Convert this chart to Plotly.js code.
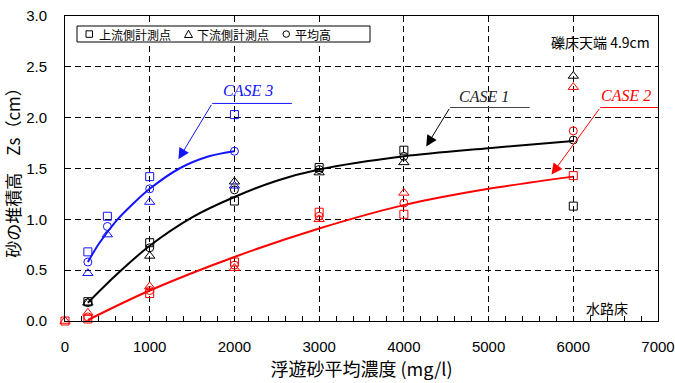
<!DOCTYPE html>
<html>
<head>
<meta charset="utf-8">
<script src="https://cdn.plot.ly/plotly-3.0.1.min.js"></script>
<style>html,body{margin:0;padding:0;background:#fff;}#chart{width:675px;height:383px;}</style>
</head>
<body>
<div id="chart"></div>
<script>
// ---- data ----
const xCase1 = [270, 1000, 2000, 3000, 4000, 6000];
const case1Up = [0.19, 0.77, 1.18, 1.51, 1.68, 1.13];
const case1Down = [0.18, 0.64, 1.37, 1.46, 1.56, 2.41];
const case1Avg = [0.18, 0.72, 1.29, 1.49, 1.62, 1.78];

const xCase2 = [0, 270, 1000, 2000, 3000, 4000, 6000];
const case2Up = [0, 0.02, 0.27, 0.58, 1.07, 1.05, 1.43];
const case2Down = [0, 0.08, 0.34, 0.52, 1.00, 1.26, 2.30];
const case2Avg = [null, 0.04, 0.30, 0.55, 1.03, 1.16, 1.87];

const xCase3 = [270, 500, 1000, 2000];
const case3Up = [0.68, 1.03, 1.42, 2.03];
const case3Down = [0.47, 0.85, 1.17, 1.33];
const case3Avg = [0.58, 0.93, 1.30, 1.67];

const fit1X = [270, 600, 1000, 1500, 2000, 2500, 3000, 4000, 5000, 6000];
const fit1Y = [0.18, 0.45, 0.74, 1.02, 1.22, 1.38, 1.49, 1.62, 1.70, 1.77];
const fit2X = [270, 1000, 2000, 3000, 4000, 5000, 6000];
const fit2Y = [0.01, 0.30, 0.63, 0.91, 1.14, 1.30, 1.42];
const fit3X = [270, 400, 600, 800, 1000, 1350, 1700, 2000];
const fit3Y = [0.58, 0.76, 0.98, 1.15, 1.30, 1.50, 1.62, 1.67];

const xTickVals = [0, 1000, 2000, 3000, 4000, 5000, 6000, 7000];
const xTickText = ['0', '1000', '2000', '3000', '4000', '5000', '6000', '7000'];
const yTickVals = [0, 0.5, 1.0, 1.5, 2.0, 2.5, 3.0];
const yTickText = ['0.0', '0.5', '1.0', '1.5', '2.0', '2.5', '3.0'];

const legendLabels = ['上流側計測点', '下流側計測点', '平均高'];
const caseLabels = ['CASE 1', 'CASE 2', 'CASE 3'];

// ---- styles ----
const BLACK = '#000000', RED = '#ff0000', BLUE = '#1414ff';
const CJK = 'Noto Sans CJK JP, sans-serif';
const LAT = 'Liberation Sans, Arial, sans-serif';

function fit(x, y, c) {
  return {x: x, y: y, type: 'scatter', mode: 'lines', line: {color: c, width: 2, shape: 'spline', smoothing: 0.9}, hoverinfo: 'skip', cliponaxis: false};
}
function pts(x, y, c, sym, size) {
  return {x: x, y: y, type: 'scatter', mode: 'markers', marker: {symbol: sym, size: size, color: c, line: {color: c, width: 1}}, cliponaxis: false};
}

const traces = [
  fit(fit1X, fit1Y, BLACK), fit(fit2X, fit2Y, RED), fit(fit3X, fit3Y, BLUE),
  pts(xCase1, case1Up, BLACK, 'square-open', 8),
  pts(xCase1, case1Down, BLACK, 'triangle-up-open', 9),
  pts(xCase1, case1Avg, BLACK, 'circle-open', 8),
  pts(xCase2, case2Up, RED, 'square-open', 8),
  pts(xCase2, case2Down, RED, 'triangle-up-open', 9),
  pts(xCase2, case2Avg, RED, 'circle-open', 8),
  pts(xCase3, case3Up, BLUE, 'square-open', 8),
  pts(xCase3, case3Down, BLUE, 'triangle-up-open', 9),
  pts(xCase3, case3Avg, BLUE, 'circle-open', 8)
];

// pixel helpers for paper-positioned decorations
const L = 65, R = 17, T = 16, B = 62, W = 675, H = 383;
const pw = W - L - R, ph = H - T - B;
const px = v => (v - L) / pw;
const py = v => (H - B - v) / ph;

const shapes = [
  // legend box
  {type: 'rect', xref: 'paper', yref: 'paper', x0: px(77), x1: px(370), y0: py(42), y1: py(26), line: {color: BLACK, width: 1}, fillcolor: '#ffffff', layer: 'above'},
  {type: 'rect', xref: 'paper', yref: 'paper', x0: px(86), x1: px(92.5), y0: py(37.3), y1: py(30.8), line: {color: BLACK, width: 1}, layer: 'above'},
  {type: 'path', xref: 'paper', yref: 'paper', path: `M ${px(188.5)} ${py(30.2)} L ${px(192.5)} ${py(37.5)} L ${px(184.5)} ${py(37.5)} Z`, line: {color: BLACK, width: 1}, layer: 'above'},
  {type: 'circle', xref: 'paper', yref: 'paper', x0: px(283), x1: px(289.5), y0: py(37.3), y1: py(30.8), line: {color: BLACK, width: 1}, layer: 'above'},
  // CASE label underlines
  {type: 'line', xref: 'x', yref: 'y', x0: 4545, x1: 5485, y0: 2.10, y1: 2.10, line: {color: '#444444', width: 1}},
  {type: 'line', xref: 'x', yref: 'y', x0: 6319, x1: 7000, y0: 2.10, y1: 2.10, line: {color: RED, width: 1}},
  {type: 'line', xref: 'x', yref: 'y', x0: 1738, x1: 2678, y0: 2.14, y1: 2.14, line: {color: BLUE, width: 1}}
];

const annotations = [
  {xref: 'paper', yref: 'paper', x: px(97), y: py(34), xanchor: 'left', yanchor: 'middle', text: legendLabels[0], showarrow: false, font: {family: CJK, size: 12, color: BLACK}},
  {xref: 'paper', yref: 'paper', x: px(195), y: py(34), xanchor: 'left', yanchor: 'middle', text: legendLabels[1], showarrow: false, font: {family: CJK, size: 12, color: BLACK}},
  {xref: 'paper', yref: 'paper', x: px(293), y: py(34), xanchor: 'left', yanchor: 'middle', text: legendLabels[2], showarrow: false, font: {family: CJK, size: 12, color: BLACK}},
  {xref: 'paper', yref: 'paper', x: px(652), y: py(42), xanchor: 'right', yanchor: 'middle', text: '礫床天端 4.9cm', showarrow: false, font: {family: CJK, size: 14, color: BLACK}},
  {xref: 'paper', yref: 'paper', x: px(607), y: py(308), xanchor: 'center', yanchor: 'middle', text: '水路床', showarrow: false, font: {family: CJK, size: 14, color: BLACK}},
  // CASE labels
  {xref: 'x', yref: 'y', x: 4945, y: 2.21, text: '<i>' + caseLabels[0] + '</i>', showarrow: false, font: {family: 'Liberation Serif, Times New Roman, serif', size: 16, color: '#222222'}},
  {xref: 'x', yref: 'y', x: 6620, y: 2.22, text: '<i>' + caseLabels[1] + '</i>', showarrow: false, font: {family: 'Liberation Serif, Times New Roman, serif', size: 16, color: RED}},
  {xref: 'x', yref: 'y', x: 2161, y: 2.27, text: '<i>' + caseLabels[2] + '</i>', showarrow: false, font: {family: 'Liberation Serif, Times New Roman, serif', size: 16, color: BLUE}},
  // arrows
  {xref: 'x', yref: 'y', axref: 'x', ayref: 'y', x: 4264, y: 1.717, ax: 4545, ay: 2.10, text: '', showarrow: true, arrowhead: 2, arrowsize: 2.2, arrowwidth: 1, arrowcolor: BLACK},
  {xref: 'x', yref: 'y', axref: 'x', ayref: 'y', x: 5743, y: 1.44, ax: 6319, ay: 2.10, text: '', showarrow: true, arrowhead: 2, arrowsize: 2.2, arrowwidth: 1, arrowcolor: RED},
  {xref: 'x', yref: 'y', axref: 'x', ayref: 'y', x: 1339, y: 1.59, ax: 1738, ay: 2.14, text: '', showarrow: true, arrowhead: 2, arrowsize: 2.2, arrowwidth: 1, arrowcolor: BLUE}
];

const layout = {
  width: W, height: H,
  margin: {l: L, r: R, t: T, b: B, pad: 0},
  paper_bgcolor: '#ffffff', plot_bgcolor: '#ffffff',
  showlegend: false,
  xaxis: {
    range: [0, 7000], tickvals: xTickVals, ticktext: xTickText,
    ticks: 'inside', ticklen: 5, tickcolor: BLACK,
    minor: {dtick: 200, ticks: 'inside', ticklen: 5, tickcolor: BLACK, showgrid: false},
    showgrid: true, gridcolor: BLACK, griddash: '6px,4px', gridwidth: 1,
    zeroline: false, showline: true, linecolor: BLACK, linewidth: 1, mirror: true,
    tickfont: {family: LAT, size: 15, color: BLACK}, ticklabelstandoff: 12, ticklabeloverflow: 'allow',
    title: {text: '浮遊砂平均濃度 (mg/l)', font: {family: CJK, size: 18, color: BLACK}, standoff: 6}
  },
  yaxis: {
    range: [0, 3], tickvals: yTickVals, ticktext: yTickText,
    ticks: 'inside', ticklen: 5, tickcolor: BLACK,
    showgrid: true, gridcolor: BLACK, griddash: '6px,4px', gridwidth: 1,
    zeroline: false, showline: true, linecolor: BLACK, linewidth: 1, mirror: true,
    tickfont: {family: LAT, size: 15, color: BLACK}, ticklabelstandoff: 14,
    title: {text: '砂の堆積高　Zs（cm）', font: {family: CJK, size: 17, color: BLACK}, standoff: 2}
  },
  shapes: shapes,
  annotations: annotations
};

Plotly.newPlot('chart', traces, layout, {displayModeBar: false, staticPlot: true});
</script>
</body>
</html>
